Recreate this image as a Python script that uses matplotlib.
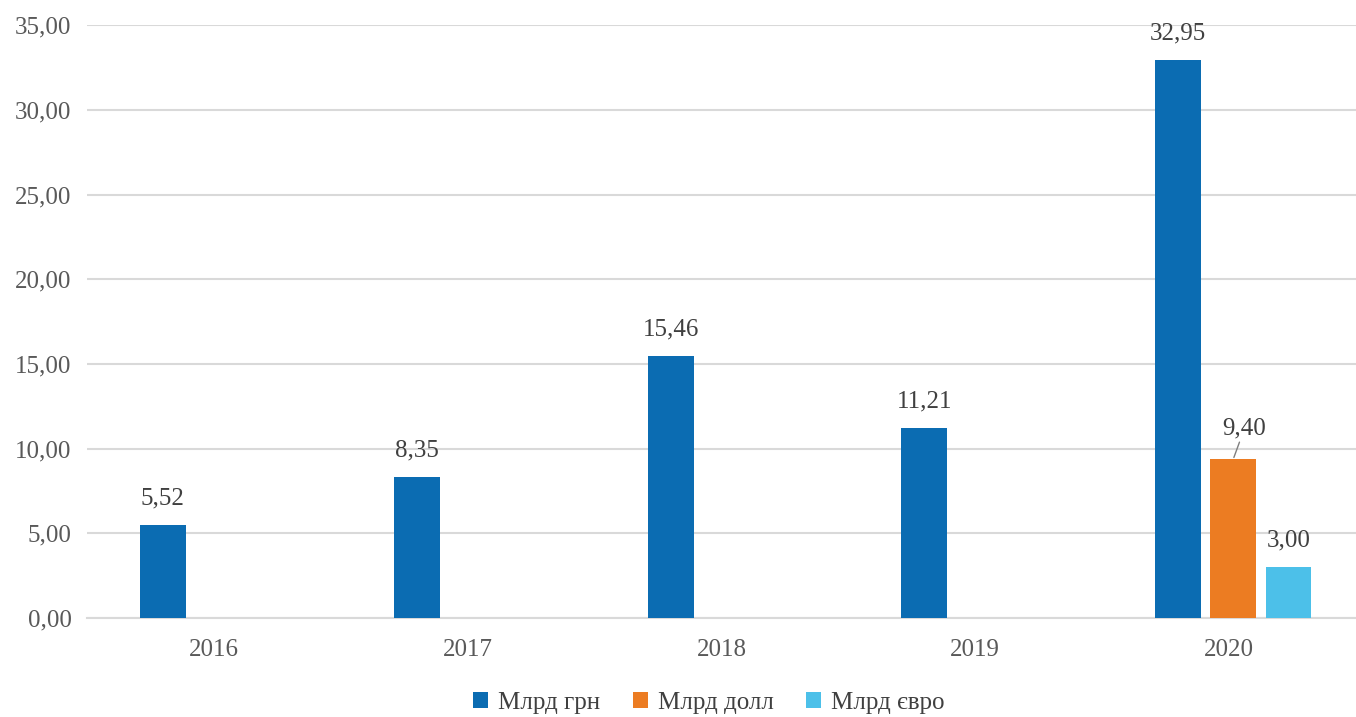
import numpy as np
import matplotlib
matplotlib.use('Agg')
import matplotlib.pyplot as plt

plt.rcParams['font.family'] = ['Liberation Serif', 'DejaVu Serif']

years = ['2016', '2017', '2018', '2019', '2020']
uah = [5.52, 8.35, 15.46, 11.21, 32.95]
usd = [np.nan, np.nan, np.nan, np.nan, 9.40]
eur = [np.nan, np.nan, np.nan, np.nan, 3.00]
series_names = ['Млрд грн', 'Млрд долл', 'Млрд євро']
colors = ['#0B6CB2', '#EC7C22', '#4CC0E9']

fig = plt.figure(figsize=(13.56, 7.17), dpi=100)
ax = fig.add_axes([0.064, 0.138, 0.936, 0.827])

x = np.arange(len(years))
w = 0.181
offsets = [-0.2, 0.017, 0.234]
for vals, off, c, name in zip([uah, usd, eur], offsets, colors, series_names):
    ax.bar(x + off, vals, width=w, color=c, label=name, zorder=3)

fs = 18
fmt = lambda v: f'{v:.2f}'.replace('.', ',')
for i, v in enumerate(uah):
    ax.annotate(fmt(v), (x[i] + offsets[0], v), xytext=(0, 11), textcoords='offset points',
                ha='center', va='bottom', fontsize=fs, color='#404040')
# dollar label with leader line
i = 4
ax.annotate(fmt(usd[i]), (x[i] + offsets[1], usd[i]), xytext=(8, 14), textcoords='offset points',
            ha='center', va='bottom', fontsize=fs, color='#404040',
            arrowprops=dict(arrowstyle='-', color='#7f7f7f', lw=1, shrinkA=0, shrinkB=1))
ax.annotate(fmt(eur[i]), (x[i] + offsets[2], eur[i]), xytext=(0, 11), textcoords='offset points',
            ha='center', va='bottom', fontsize=fs, color='#404040')

ax.set_xlim(-0.5, 4.5)
ax.set_ylim(0, 35)
ax.set_yticks(np.arange(0, 36, 5))
ax.set_yticklabels([fmt(t) for t in np.arange(0, 36, 5)])
ax.set_xticks(x)
ax.set_xticklabels(years)
ax.tick_params(axis='both', length=0, labelsize=fs, labelcolor='#595959')
ax.tick_params(axis='y', pad=11)
ax.tick_params(axis='x', pad=15)
ax.grid(axis='y', color='#D9D9D9', lw=1.5, zorder=0)
for s in ['top', 'right', 'left']:
    ax.spines[s].set_visible(False)
ax.spines['bottom'].set_color('#D9D9D9')
ax.spines['bottom'].set_linewidth(1.5)

fig.legend(loc='center', bbox_to_anchor=(0.523, 0.02), ncol=3, frameon=False,
           fontsize=fs, handlelength=0.6, handleheight=0.6, handletextpad=0.4,
           columnspacing=1.3, labelcolor='#404040')

fig.savefig('out.png', dpi=100)
